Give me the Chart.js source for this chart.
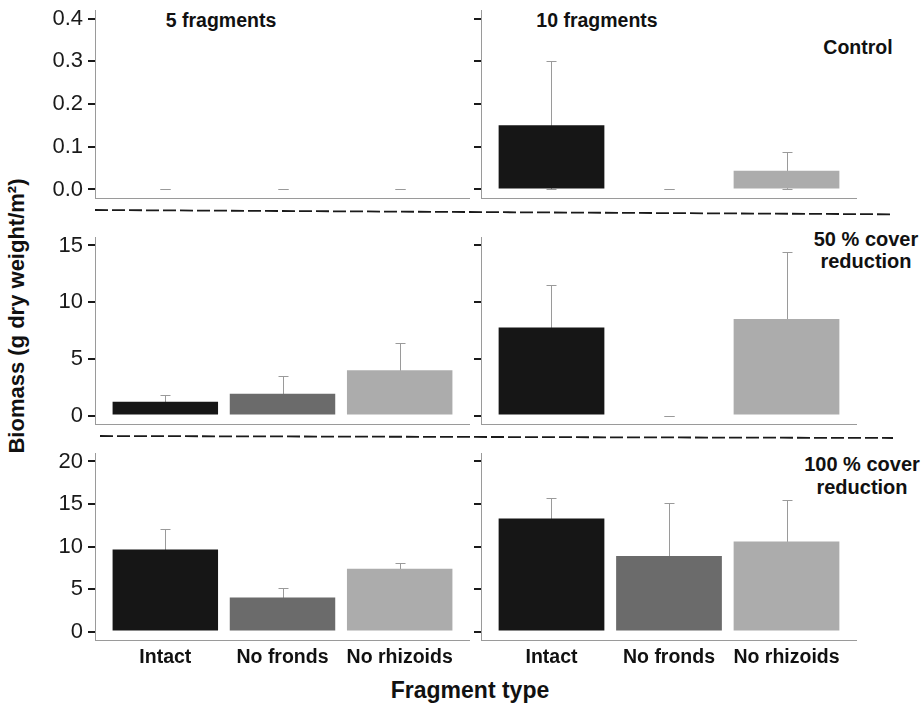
<!DOCTYPE html>
<html>
<head>
<meta charset="utf-8">
<script src="https://cdn.jsdelivr.net/npm/chart.js@4.4.1/dist/chart.umd.min.js"></script>
<style>
  body { margin: 0; background: #fff; width: 921px; height: 707px; position: relative; overflow: hidden;
         font-family: "Liberation Sans", Arial, sans-serif; color: #111; }
  canvas { position: absolute; }
  .lbl { position: absolute; font-weight: bold; white-space: nowrap; text-align: center;
         transform: translate(-50%, -50%); }
  svg { position: absolute; left: 0; top: 0; }
</style>
</head>
<body>
<svg width="921" height="707">
  <line x1="95" y1="210" x2="890" y2="214.3" stroke="#1a1a1a" stroke-width="1.8" stroke-dasharray="13 4"/>
  <line x1="100" y1="436" x2="893" y2="438" stroke="#1a1a1a" stroke-width="1.8" stroke-dasharray="13 4"/>
</svg>

<div class="lbl" style="left:221px; top:20px; font-size:19.5px;">5 fragments</div>
<div class="lbl" style="left:597px; top:20px; font-size:19.5px;">10 fragments</div>
<div class="lbl" style="left:858px; top:47px; font-size:19.5px;">Control</div>
<div class="lbl" style="left:866px; top:250px; font-size:20px; line-height:22px;">50 % cover<br>reduction</div>
<div class="lbl" style="left:862px; top:476px; font-size:20px; line-height:23px;">100 % cover<br>reduction</div>
<div class="lbl" style="left:470px; top:690px; font-size:23px;">Fragment type</div>
<div class="lbl" style="left:17px; top:316px; font-size:22px; transform: translate(-50%, -50%) rotate(-90deg);">Biomass (g dry weight/m²)</div>

<script>
const fragmentTypes = ['Intact', 'No fronds', 'No rhizoids'];
const barColors = ['#161616', '#6b6b6b', '#acacac'];

// mean biomass and standard error per fragment type (g dry weight / m2)
const control5 = [0, 0, 0];
const control5Se = [0, 0, 0];
const control10 = [0.15, 0, 0.044];
const control10Se = [0.15, 0, 0.043];
const half5 = [1.22, 1.93, 4.0];
const half5Se = [0.56, 1.52, 2.42];
const half10 = [7.76, 0, 8.52];
const half10Se = [3.74, 0, 5.95];
const full5 = [9.65, 3.99, 7.39];
const full5Se = [2.42, 1.13, 0.66];
const full10 = [13.28, 8.87, 10.59];
const full10Se = [2.42, 6.29, 4.85];

const ticksControl = [0, 0.1, 0.2, 0.3, 0.4];
const ticksHalf = [0, 5, 10, 15];
const ticksFull = [0, 5, 10, 15, 20];

const FONT = "'Liberation Sans', Arial, sans-serif";

// error bars drawn under the bars, like the ggplot original
const errorBars = {
    id: 'errorBars',
    beforeDatasetsDraw(chart, args, opts) {
        const ctx = chart.ctx;
        const yScale = chart.scales.y;
        const meta = chart.getDatasetMeta(0);
        const data = chart.data.datasets[0].data;
        ctx.save();
        ctx.strokeStyle = opts.color;
        ctx.lineWidth = 1;
        meta.data.forEach((bar, i) => {
            const m = data[i].y, e = opts.se[i];
            const x = Math.round(bar.x) + 0.5;
            const yHi = Math.round(yScale.getPixelForValue(m + e)) + 0.5;
            const yLo = Math.round(yScale.getPixelForValue(m - e)) + 0.5;
            const c = opts.cap / 2;
            ctx.beginPath();
            ctx.moveTo(x, yLo); ctx.lineTo(x, yHi);
            ctx.moveTo(x - c, yHi); ctx.lineTo(x + c, yHi);
            ctx.moveTo(x - c, yLo); ctx.lineTo(x + c, yLo);
            ctx.stroke();
        });
        ctx.restore();
    }
};

const rows = [
    { top: 0, height: 200, xHeight: 2 },
    { top: 227, height: 199, xHeight: 2 },
    { top: 443, height: 237, xHeight: 40 }
];
const cols = [
    { left: 0, width: 470, yWidth: 95 },
    { left: 470, width: 387, yWidth: 11 }
];

function makePanel(row, col, means, se, yTicks, decimals) {
    const r = rows[row], c = cols[col];
    const leftCol = col === 0, bottomRow = row === 2;
    const canvas = document.createElement('canvas');
    canvas.width = c.width;
    canvas.height = r.height;
    canvas.style.left = c.left + 'px';
    canvas.style.top = r.top + 'px';
    document.body.appendChild(canvas);

    const lo = yTicks[0], hi = yTicks[yTicks.length - 1];
    const pad = (hi - lo) * 0.05;

    new Chart(canvas, {
        type: 'bar',
        data: {
            datasets: [{
                data: means.map((v, i) => ({ x: i + 1, y: v })),
                backgroundColor: barColors,
                borderWidth: 0,
                barPercentage: 0.9,
                categoryPercentage: 1
            }]
        },
        options: {
            responsive: false,
            animation: false,
            layout: { padding: { top: 10, left: 0, right: 0, bottom: 0 } },
            plugins: {
                legend: { display: false },
                tooltip: { enabled: false },
                errorBars: { se: se, color: '#9a9a9a', cap: 10 }
            },
            scales: {
                x: {
                    type: 'linear',
                    min: 0.4,
                    max: 3.6,
                    offset: false,
                    afterBuildTicks: s => { s.ticks = fragmentTypes.map((_, i) => ({ value: i + 1 })); },
                    afterFit: s => { s.height = r.xHeight; s.paddingLeft = 0; s.paddingRight = 0; },
                    grid: { display: false, drawTicks: false },
                    border: { display: true, color: '#9a9a9a', width: 1 },
                    ticks: {
                        display: bottomRow,
                        autoSkip: false,
                        maxRotation: 0,
                        padding: 6,
                        color: '#111',
                        font: { family: FONT, size: 19.5, weight: 'bold' },
                        callback: v => fragmentTypes[v - 1]
                    }
                },
                y: {
                    min: lo - pad,
                    max: hi + pad,
                    afterBuildTicks: s => { s.ticks = yTicks.map(v => ({ value: v })); },
                    afterFit: s => { s.width = c.yWidth; s.paddingTop = 0; s.paddingBottom = 0; },
                    grid: {
                        drawOnChartArea: false,
                        drawTicks: true,
                        tickLength: 7,
                        tickColor: '#1a1a1a',
                        tickWidth: 2,
                        lineWidth: 2
                    },
                    border: { display: true, color: '#9a9a9a', width: 1 },
                    ticks: {
                        display: leftCol,
                        color: '#1a1a1a',
                        padding: 5,
                        font: { family: FONT, size: 22 },
                        callback: v => v.toFixed(decimals)
                    }
                }
            }
        },
        plugins: [errorBars]
    });
}

makePanel(0, 0, control5, control5Se, ticksControl, 1);
makePanel(0, 1, control10, control10Se, ticksControl, 1);
makePanel(1, 0, half5, half5Se, ticksHalf, 0);
makePanel(1, 1, half10, half10Se, ticksHalf, 0);
makePanel(2, 0, full5, full5Se, ticksFull, 0);
makePanel(2, 1, full10, full10Se, ticksFull, 0);
</script>
</body>
</html>
